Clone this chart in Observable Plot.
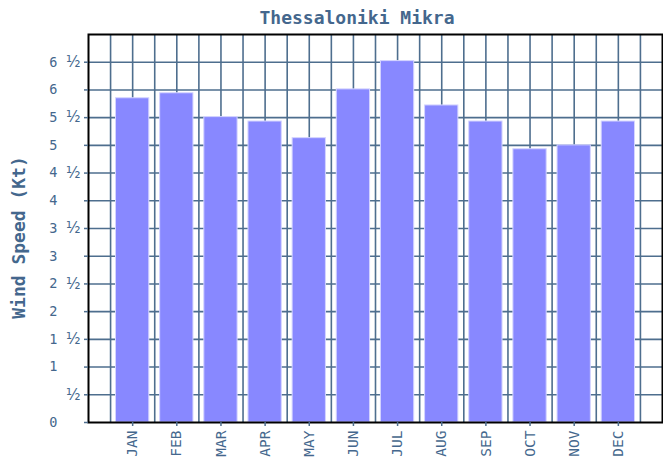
<!DOCTYPE html>
<html>
<head>
<meta charset="utf-8">
<script src="https://cdn.jsdelivr.net/npm/d3@7"></script>
<script src="https://cdn.jsdelivr.net/npm/@observablehq/plot@0.6"></script>
<style>
  html, body { margin: 0; padding: 0; background: #ffffff; }
  #chart svg { display: block; }
</style>
</head>
<body>
<div id="chart"></div>
<script>
const title = "Thessaloniki Mikra";
const yLabel = "Wind Speed (Kt)";
const months = ["JAN","FEB","MAR","APR","MAY","JUN","JUL","AUG","SEP","OCT","NOV","DEC"];
const windSpeed = [5.85, 5.94, 5.51, 5.43, 5.13, 6.01, 6.52, 5.72, 5.43, 4.93, 5.0, 5.43];
const yTicks = [0, 0.5, 1, 1.5, 2, 2.5, 3, 3.5, 4, 4.5, 5, 5.5, 6, 6.5];

const gridColor = "#4e6e8e";
const textColor = "#44678d";
const monthIdx = months.map((m, i) => i);
const xGrid = months.flatMap((m, i) => [i - 0.5, i]).concat([months.length - 0.5]);

const chart = Plot.plot({
  width: 663,
  height: 460,
  marginLeft: 88,
  marginRight: 1,
  marginTop: 34,
  marginBottom: 38,
  style: { background: "#ffffff", fontFamily: "DejaVu Sans Mono" },
  x: { type: "linear", domain: [-1, 12] },
  y: { domain: [0, 7] },
  marks: [
    Plot.ruleY(yTicks.filter(d => d > 0), { stroke: gridColor, strokeWidth: 1.6 }),
    Plot.ruleX(xGrid, { stroke: gridColor, strokeWidth: 1.6 }),
    Plot.rectY(windSpeed, {
      x1: (d, i) => i - 0.377,
      x2: (d, i) => i + 0.377,
      y1: 0,
      y2: d => d,
      fill: "#8888ff",
      stroke: "#d4d4ff",
      strokeWidth: 1
    }),
    Plot.frame({ stroke: "#000000", strokeWidth: 2 }),
    Plot.axisY(yTicks, {
      tickSize: 4, tickPadding: 27,
      stroke: gridColor, strokeWidth: 1.5,
      fill: textColor, fontSize: 13.5,
      tickFormat: d => d === 0 ? "0" : (d >= 1 ? String(Math.floor(d)) : "")
    }),
    Plot.axisY(yTicks.filter(d => d % 1 !== 0), {
      tickSize: 0, tickPadding: 8,
      fill: textColor, fontSize: 15, fontFamily: "DejaVu Sans",
      tickFormat: () => "½"
    }),
    Plot.axisX(monthIdx, {
      tickSize: 4, tickPadding: 4, tickRotate: -90,
      stroke: gridColor, strokeWidth: 1.5,
      fill: textColor, fontSize: 14.5,
      tickFormat: i => months[i]
    }),
    Plot.text([title], {
      frameAnchor: "top", dx: -18.5, dy: -16.5, lineAnchor: "middle",
      fill: textColor, fontSize: 18, fontWeight: "bold"
    }),
    Plot.text([yLabel], {
      frameAnchor: "left", dx: -69, dy: 9, rotate: -90,
      textAnchor: "middle", lineAnchor: "middle",
      fill: textColor, fontSize: 18, fontWeight: "bold"
    })
  ]
});
document.getElementById("chart").appendChild(chart);
</script>
</body>
</html>
